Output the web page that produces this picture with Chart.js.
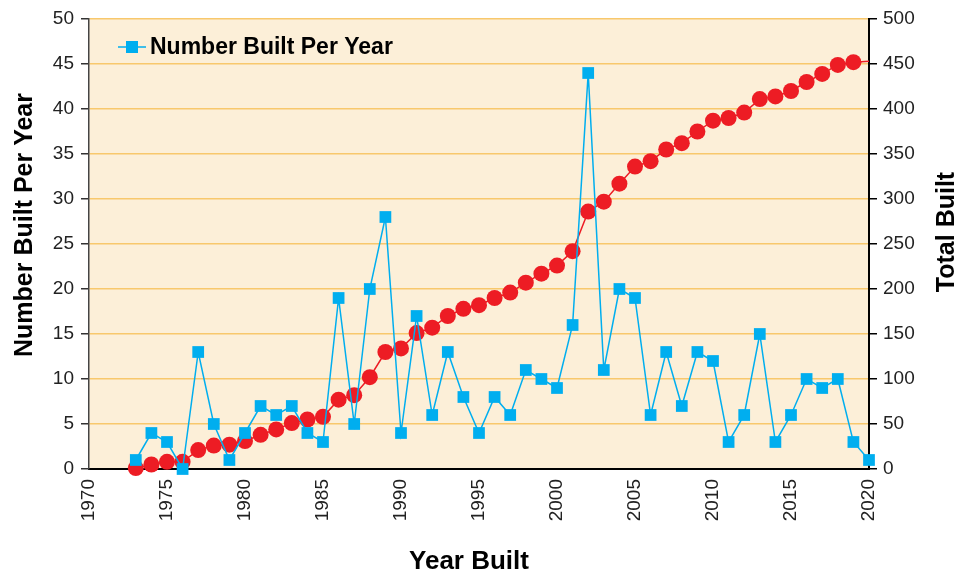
<!DOCTYPE html>
<html>
<head>
<meta charset="utf-8">
<script src="https://cdn.jsdelivr.net/npm/chart.js@4.4.0/dist/chart.umd.min.js"></script>
<style>
  body { margin: 0; background: #fff; }
  #wrap { width: 970px; height: 573px; }
</style>
</head>
<body>
<div id="wrap"><canvas id="chart" width="970" height="573"></canvas></div>
<script>
const years = [1973, 1974, 1975, 1976, 1977, 1978, 1979, 1980, 1981, 1982, 1983, 1984, 1985, 1986, 1987, 1988,
  1989, 1990, 1991, 1992, 1993, 1994, 1995, 1996, 1997, 1998, 1999, 2000, 2001, 2002, 2003, 2004,
  2005, 2006, 2007, 2008, 2009, 2010, 2011, 2012, 2013, 2014, 2015, 2016, 2017, 2018, 2019, 2020];

const builtPerYear = [1, 4, 3, 0, 13, 5, 1, 4, 7, 6, 7, 4, 3, 19, 5, 20,
  28, 4, 17, 6, 13, 8, 4, 8, 6, 11, 10, 9, 16, 44, 11, 20,
  19, 6, 13, 7, 13, 12, 3, 6, 15, 3, 6, 10, 9, 10, 3, 1];

const totalBuilt = [1, 5, 8, 8, 21, 26, 27, 31, 38, 44, 51, 55, 58, 77, 82, 102,
  130, 134, 151, 157, 170, 178, 182, 190, 196, 207, 217, 226, 242, 286, 297, 317,
  336, 342, 355, 362, 375, 387, 390, 396, 411, 414, 420, 430, 439, 449, 452, 453];

const BLUE = '#00aeef';
const RED = '#ed1c24';
const GRID = '#f8c86c';
const FONT = '"Liberation Sans", Arial, sans-serif';

// background of the plot area
const areaBg = {
  id: 'areaBg',
  beforeDraw(chart) {
    const { ctx, chartArea: a } = chart;
    ctx.save();
    ctx.fillStyle = '#fcefd8';
    ctx.fillRect(a.left, a.top, a.right - a.left, a.bottom - a.top);
    ctx.restore();
  }
};

// axis titles + the one legend entry
const extras = {
  id: 'extras',
  afterDraw(chart) {
    const { ctx, chartArea: a } = chart;
    ctx.save();
    ctx.fillStyle = '#000';
    ctx.textAlign = 'center';
    ctx.textBaseline = 'middle';

    ctx.font = 'bold 25px ' + FONT;
    ctx.save();
    ctx.translate(25, 225);
    ctx.rotate(-Math.PI / 2);
    ctx.fillText('Number Built Per Year', 0, 0);
    ctx.restore();

    ctx.save();
    ctx.translate(947, 232);
    ctx.rotate(-Math.PI / 2);
    ctx.fillText('Total Built', 0, 0);
    ctx.restore();

    ctx.font = 'bold 26px ' + FONT;
    ctx.fillText('Year Built', 469, 562);

    // legend
    const ds = chart.data.datasets[0];
    const lx = a.left + 29, ly = a.top + 28;
    ctx.strokeStyle = ds.borderColor;
    ctx.lineWidth = 1.5;
    ctx.beginPath();
    ctx.moveTo(lx, ly);
    ctx.lineTo(lx + 28, ly);
    ctx.stroke();
    ctx.fillStyle = ds.pointBackgroundColor;
    ctx.fillRect(lx + 8, ly - 6, 12, 12);
    ctx.fillStyle = '#000';
    ctx.textAlign = 'left';
    ctx.font = 'bold 23px ' + FONT;
    ctx.fillText(ds.label, lx + 32, ly + 1);
    ctx.restore();
  }
};

const ctx = document.getElementById('chart').getContext('2d');
new Chart(ctx, {
  type: 'line',
  data: {
    datasets: [
      {
        label: 'Number Built Per Year',
        data: years.map((y, i) => ({ x: y, y: builtPerYear[i] })),
        yAxisID: 'y',
        borderColor: BLUE,
        borderWidth: 1.5,
        pointStyle: 'rect',
        pointRadius: 8.3,
        pointBackgroundColor: BLUE,
        pointBorderColor: BLUE,
        pointBorderWidth: 0,
        clip: false
      },
      {
        label: 'Total Built',
        data: years.map((y, i) => ({ x: y, y: totalBuilt[i] })),
        yAxisID: 'y1',
        borderColor: RED,
        borderWidth: 1.5,
        pointRadius: (c) => c.dataIndex === totalBuilt.length - 1 ? 0 : 8,
        pointBackgroundColor: RED,
        pointBorderColor: RED,
        pointBorderWidth: 0,
        clip: false
      }
    ]
  },
  options: {
    responsive: false,
    animation: false,
    layout: { padding: { top: 19, left: 0, right: 0, bottom: 0 } },
    plugins: {
      legend: { display: false },
      tooltip: { enabled: false }
    },
    scales: {
      x: {
        type: 'linear',
        min: 1970,
        max: 2020,
        afterFit: (s) => { s.height = 104; },
        ticks: {
          stepSize: 5,
          minRotation: 90,
          maxRotation: 90,
          padding: 10,
          color: '#222',
          font: { family: FONT, size: 19 },
          callback: (v) => String(v)
        },
        grid: { display: false, drawTicks: false },
        border: { color: '#000', width: 2 }
      },
      y: {
        position: 'left',
        min: 0,
        max: 50,
        afterFit: (s) => { s.width = 89; },
        ticks: {
          stepSize: 5,
          padding: 7,
          color: '#222',
          font: { family: FONT, size: 19 }
        },
        grid: { color: GRID, lineWidth: 1.5, tickColor: '#333', tickLength: 8 },
        border: { color: '#444', width: 1.5 }
      },
      y1: {
        position: 'right',
        min: 0,
        max: 500,
        afterFit: (s) => { s.width = 101; },
        ticks: {
          stepSize: 50,
          padding: 6,
          color: '#222',
          font: { family: FONT, size: 19 }
        },
        grid: { drawOnChartArea: false, tickColor: '#000', tickLength: 8, lineWidth: 1.5 },
        border: { color: '#000', width: 2 }
      }
    }
  },
  plugins: [areaBg, extras]
});
</script>
</body>
</html>
